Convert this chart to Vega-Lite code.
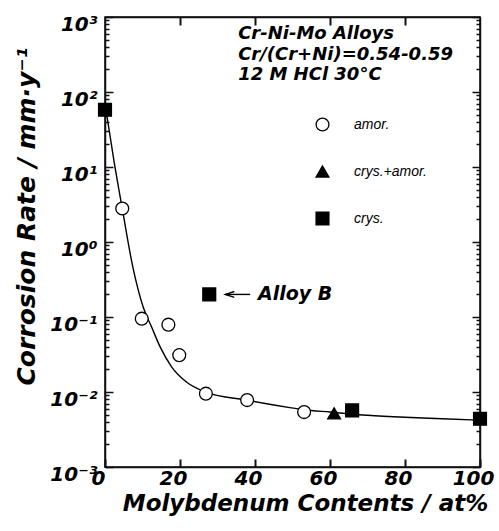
{
  "$schema": "https://vega.github.io/schema/vega-lite/v6.json",
  "width": 375,
  "height": 450,
  "autosize": {"type": "none"},
  "padding": {"left": 105, "top": 17, "right": 19, "bottom": 64},
  "background": "white",
  "config": {"view": {"stroke": "black", "strokeWidth": 1.5}, "font": "DejaVu Sans"},
  "datasets": {
    "curve": [
      {"x": 0.4, "y": 52}, {"x": 2.4, "y": 12}, {"x": 4.6, "y": 2.8}, {"x": 7.4, "y": 0.47},
      {"x": 10.2, "y": 0.135}, {"x": 12.4, "y": 0.074}, {"x": 14.7, "y": 0.04}, {"x": 17.8, "y": 0.0215},
      {"x": 21.8, "y": 0.0135}, {"x": 27.1, "y": 0.0099}, {"x": 37.8, "y": 0.0078}, {"x": 49.3, "y": 0.0062},
      {"x": 53, "y": 0.0058}, {"x": 60, "y": 0.0054}, {"x": 70, "y": 0.0049}, {"x": 80, "y": 0.0046},
      {"x": 90, "y": 0.0044}, {"x": 100, "y": 0.0042}
    ],
    "points": [
      {"x": 0, "y": 58, "type": "crys."},
      {"x": 4.6, "y": 2.8, "type": "amor."},
      {"x": 9.8, "y": 0.095, "type": "amor."},
      {"x": 16.9, "y": 0.079, "type": "amor."},
      {"x": 19.8, "y": 0.031, "type": "amor."},
      {"x": 26.9, "y": 0.0095, "type": "amor."},
      {"x": 37.9, "y": 0.0078, "type": "amor."},
      {"x": 53.1, "y": 0.0054, "type": "amor."},
      {"x": 61.1, "y": 0.0052, "type": "crys.+amor."},
      {"x": 65.9, "y": 0.0057, "type": "crys."},
      {"x": 100, "y": 0.0044, "type": "crys."},
      {"x": 27.8, "y": 0.2, "type": "crys."}
    ]
  },
  "encoding": {
    "x": {"field": "x", "type": "quantitative", "scale": {"type": "linear", "domain": [0, 100], "nice": false, "zero": false}, "axis": null},
    "y": {"field": "y", "type": "quantitative", "scale": {"type": "log", "domain": [0.001, 1000], "nice": false}, "axis": null}
  },
  "layer": [
    {
      "data": {"name": "curve"},
      "mark": {"type": "line", "color": "black", "strokeWidth": 1.4, "interpolate": "monotone"},
      "encoding": {
        "x": {"field": "x", "type": "quantitative", "scale": {"type": "linear", "domain": [0, 100], "nice": false, "zero": false},
          "axis": {"orient": "bottom", "values": [0, 20, 40, 60, 80, 100], "grid": false,
            "domainColor": "#111111", "domainWidth": 1.5,
            "tickSize": -8, "tickColor": "#111111", "tickWidth": 2,
            "labelFont": "DejaVu Sans", "labelFontSize": 20, "labelFontStyle": "italic", "labelFontWeight": "bold", "labelColor": "black",
            "labelFlush": false, "labelOffset": -7, "labelPadding": 9,
            "title": "Molybdenum Contents / at%", "titleFont": "DejaVu Sans", "titleFontSize": 23, "titleFontStyle": "italic", "titleFontWeight": "bold", "titleColor": "black",
            "titleX": 200, "titleY": 36, "titleBaseline": "middle", "titleAlign": "center", "titleAnchor": null}},
        "y": {"field": "y", "type": "quantitative", "scale": {"type": "log", "domain": [0.001, 1000], "nice": false},
          "axis": {"orient": "left", "grid": false,
            "domainColor": "#111111", "domainWidth": 1.5,
            "values": [0.001,0.002,0.003,0.004,0.005,0.006,0.007,0.008,0.009,0.01,0.02,0.03,0.04,0.05,0.06,0.07,0.08,0.09,0.1,0.2,0.3,0.4,0.5,0.6,0.7,0.8,0.9,1,2,3,4,5,6,7,8,9,10,20,30,40,50,60,70,80,90,100,200,300,400,500,600,700,800,900,1000],
            "tickSize": {"condition": {"test": "abs(log(datum.value)/LN10 - round(log(datum.value)/LN10)) < 0.001", "value": -8}, "value": -4},
            "tickColor": "#111111", "tickWidth": 1.5,
            "labelExpr": "abs(log(datum.value)/LN10 - round(log(datum.value)/LN10)) > 0.001 ? '' : ['10⁻³','10⁻²','10⁻¹','10⁰','10¹','10²','10³'][round(log(datum.value)/LN10)+3]",
            "labelOverlap": false, "labelBound": false,
            "labelFont": "DejaVu Sans", "labelFontSize": 20, "labelFontStyle": "italic", "labelFontWeight": "bold", "labelColor": "black",
            "labelFlush": false, "labelPadding": 16, "labelOffset": 7, "labelBaseline": "middle",
            "title": "Corrosion Rate / mm·y⁻¹", "titleFont": "DejaVu Sans", "titleFontSize": 25, "titleFontStyle": "italic", "titleFontWeight": "bold", "titleColor": "black",
            "titleX": -79, "titleY": 199, "titleAngle": -90, "titleBaseline": "middle", "titleAlign": "center", "titleAnchor": null}}
      }
    },
    {
      "data": {"name": "points"},
      "mark": {"type": "point", "strokeWidth": 1.3, "size": 165, "opacity": 1, "fillOpacity": 1, "filled": false},
      "encoding": {
        "x": {"field": "x", "type": "quantitative", "scale": {"type": "linear", "domain": [0, 100], "nice": false, "zero": false},
          "axis": {"orient": "top", "values": [20, 40, 60, 80], "grid": false, "labels": false, "title": null,
            "domainColor": "#111111", "domainWidth": 1.5,
            "tickSize": -8, "tickColor": "#111111", "tickWidth": 2}},
        "y": {"field": "y", "type": "quantitative", "scale": {"type": "log", "domain": [0.001, 1000], "nice": false},
          "axis": {"orient": "right", "grid": false, "labels": false, "title": null,
            "domainColor": "#111111", "domainWidth": 1.5,
            "values": [0.001,0.002,0.003,0.004,0.005,0.006,0.007,0.008,0.009,0.01,0.02,0.03,0.04,0.05,0.06,0.07,0.08,0.09,0.1,0.2,0.3,0.4,0.5,0.6,0.7,0.8,0.9,1,2,3,4,5,6,7,8,9,10,20,30,40,50,60,70,80,90,100,200,300,400,500,600,700,800,900,1000],
            "tickSize": {"condition": {"test": "abs(log(datum.value)/LN10 - round(log(datum.value)/LN10)) < 0.001", "value": -8}, "value": -4},
            "tickColor": "#111111", "tickWidth": 1.5}},
        "shape": {"field": "type", "type": "nominal",
          "scale": {"domain": ["amor.", "crys.+amor.", "crys."], "range": ["circle", "triangle-up", "square"]},
          "legend": {"orient": "none", "legendX": 210, "legendY": 100, "title": null, "padding": 0,
            "symbolSize": 165, "symbolStrokeWidth": 1.3,
            "labelFont": "Liberation Sans Narrow, Liberation Sans", "labelFontStyle": "italic", "labelFontSize": 14, "labelColor": "black",
            "labelOffset": 24, "rowPadding": 29}},
        "fill": {"field": "type", "type": "nominal",
          "scale": {"domain": ["amor.", "crys.+amor.", "crys."], "range": ["white", "black", "black"]},
          "legend": {"orient": "none", "legendX": 210, "legendY": 100, "title": null, "padding": 0,
            "symbolSize": 165, "symbolStrokeWidth": 1.3,
            "labelFont": "Liberation Sans Narrow, Liberation Sans", "labelFontStyle": "italic", "labelFontSize": 14, "labelColor": "black",
            "labelOffset": 24, "rowPadding": 29}},
        "stroke": {"field": "type", "type": "nominal",
          "scale": {"domain": ["amor.", "crys.+amor.", "crys."], "range": ["black", "black", "black"]},
          "legend": {"orient": "none", "legendX": 210, "legendY": 100, "title": null, "padding": 0,
            "symbolSize": 165, "symbolStrokeWidth": 1.3,
            "labelFont": "Liberation Sans Narrow, Liberation Sans", "labelFontStyle": "italic", "labelFontSize": 14, "labelColor": "black",
            "labelOffset": 24, "rowPadding": 29}}
      }
    },
    {
      "data": {"values": [
        {"x": 35.5, "y": 593, "label": "Cr-Ni-Mo Alloys"},
        {"x": 35.5, "y": 311, "label": "Cr/(Cr+Ni)=0.54-0.59"},
        {"x": 35.5, "y": 169, "label": "12 M HCl 30°C"}
      ]},
      "mark": {"type": "text", "align": "left", "baseline": "middle", "font": "DejaVu Sans", "fontSize": 18, "fontStyle": "italic", "fontWeight": "bold", "color": "black"},
      "encoding": {"text": {"field": "label"}}
    },
    {
      "data": {"values": [{"x": 40.8, "y": 0.2, "label": "Alloy B"}]},
      "mark": {"type": "text", "align": "left", "baseline": "middle", "font": "DejaVu Sans", "fontSize": 19, "fontStyle": "italic", "fontWeight": "bold", "color": "black"},
      "encoding": {"text": {"field": "label"}}
    },
    {
      "data": {"values": [{"x": 32.1, "x2": 38.7, "y": 0.2}]},
      "mark": {"type": "rule", "color": "black", "strokeWidth": 1.4},
      "encoding": {"x2": {"field": "x2"}}
    },
    {
      "data": {"values": [{"x": 33.3, "y": 0.2}]},
      "mark": {"type": "point", "shape": "M 1 -0.65 L -1 0 L 1 0.65", "size": 81, "stroke": "black", "strokeWidth": 1.4, "filled": false, "fill": null, "opacity": 1}
    }
  ],
  "resolve": {"axis": {"x": "independent", "y": "independent"}}
}
